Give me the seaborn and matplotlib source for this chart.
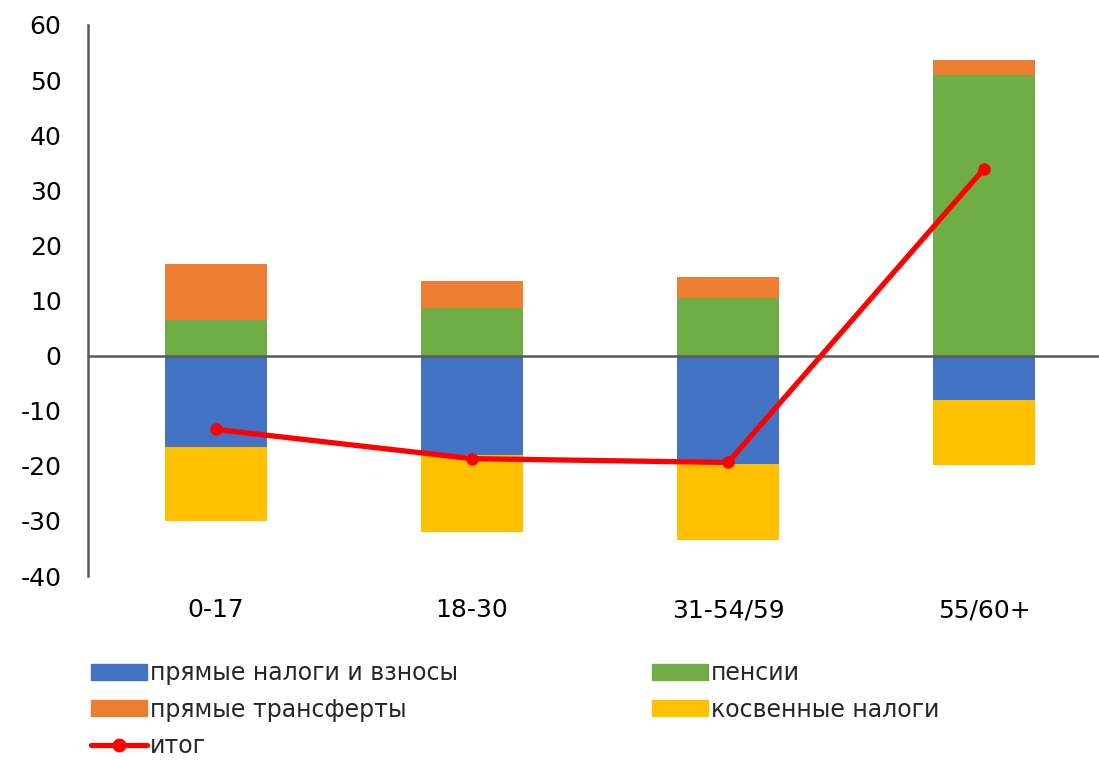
import numpy as np
import pandas as pd
import matplotlib
matplotlib.use("Agg")
import matplotlib.pyplot as plt
import seaborn as sns
from matplotlib.patches import Patch
from matplotlib.lines import Line2D

categories = ["0-17", "18-30", "31-54/59", "55/60+"]
direct_taxes = [-16.5, -18.1, -19.6, -8.0]      # прямые налоги и взносы
pensions = [6.4, 8.7, 10.5, 51.0]               # пенсии
transfers = [10.2, 4.9, 3.7, 2.7]               # прямые трансферты
indirect_taxes = [-13.5, -14.0, -13.8, -11.8]   # косвенные налоги
total = [-13.4, -18.7, -19.4, 33.9]             # итог
yticks = [-40, -30, -20, -10, 0, 10, 20, 30, 40, 50, 60]

c_blue, c_orange, c_green, c_yellow, c_red = "#4472C4", "#ED7D31", "#70AD47", "#FFC000", "#FF0000"

sns.set_theme(style="white")
plt.rcParams["font.family"] = ["DejaVu Sans"]

fig = plt.figure(figsize=(10.99, 7.61), dpi=100)
ax = fig.add_axes([88 / 1099, 185 / 761, 1024 / 1099, 551 / 761])

df = pd.DataFrame({
    "cat": categories,
    "pos_top": np.array(pensions) + np.array(transfers),
    "pens": pensions,
    "neg_bot": np.array(direct_taxes) + np.array(indirect_taxes),
    "direct": direct_taxes,
})
w = 0.4
for col, c in [("pos_top", c_orange), ("pens", c_green), ("neg_bot", c_yellow), ("direct", c_blue)]:
    sns.barplot(data=df, x="cat", y=col, color=c, width=w, saturation=1, linewidth=0, ax=ax)

ax.axhline(0, color="#595959", lw=1.8, zorder=3, clip_on=False)

sns.lineplot(x=np.arange(len(categories)), y=total, color=c_red, lw=3.8, marker="o",
             markersize=9, markeredgewidth=0, ax=ax, zorder=5)

ax.set_xlim(-0.5, 3.5)
ax.set_ylim(-40, 60)
ax.set_yticks(yticks)
ax.set_yticklabels([str(t) for t in yticks], fontsize=18, color="black")
ax.set_xticks(range(len(categories)))
ax.set_xticklabels(categories, fontsize=18, color="black")
ax.tick_params(axis="x", length=0, pad=16)
ax.tick_params(axis="y", length=0, pad=19)
ax.set_xlabel("")
ax.set_ylabel("")
for s in ["top", "right", "bottom"]:
    ax.spines[s].set_visible(False)
ax.spines["left"].set_color("#595959")
ax.spines["left"].set_linewidth(1.8)

handles = [
    Patch(color=c_blue, label="прямые налоги и взносы"),
    Patch(color=c_orange, label="прямые трансферты"),
    Line2D([0], [0], color=c_red, lw=3.8, marker="o", markersize=9, label="итог"),
    Patch(color=c_green, label="пенсии"),
    Patch(color=c_yellow, label="косвенные налоги"),
]
fig.legend(handles=handles, ncol=2, loc="upper left", bbox_to_anchor=(70 / 1099, 1 - 640 / 761),
           frameon=False, fontsize=17, handlelength=2.37, handleheight=0.68, handletextpad=0.12,
           columnspacing=8.2, labelspacing=0.52)

fig.savefig("out.png", dpi=100)
